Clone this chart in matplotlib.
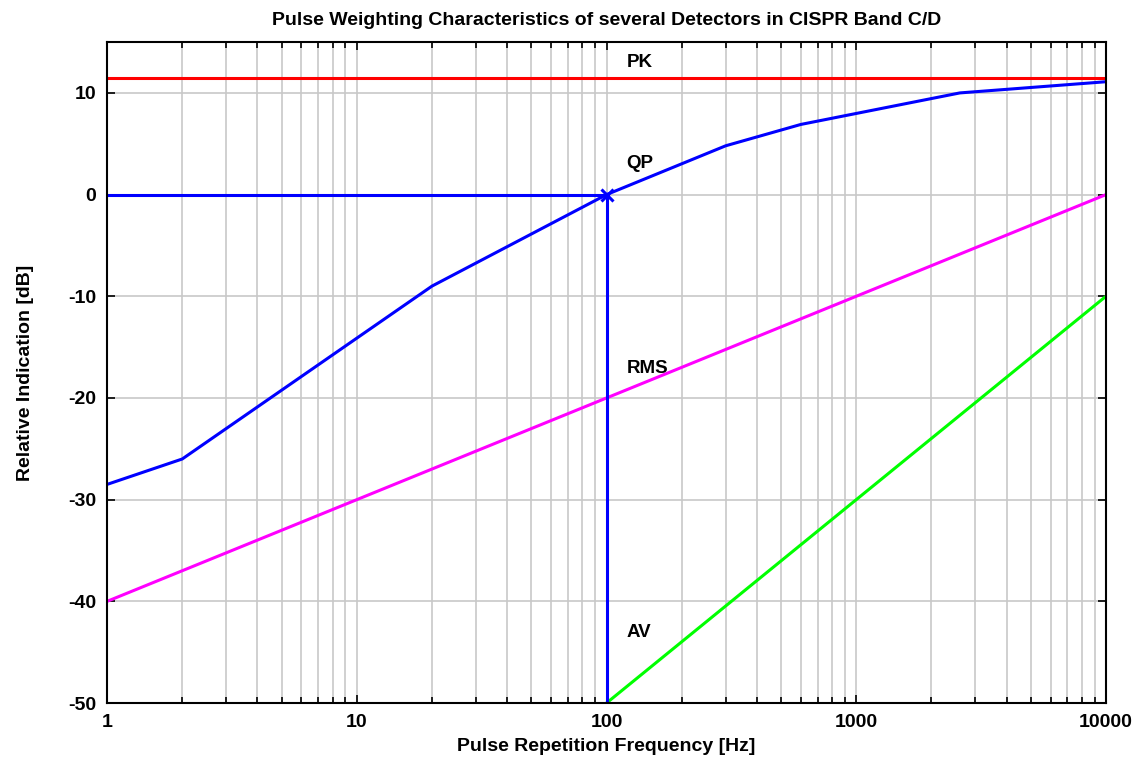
import matplotlib
matplotlib.use('Agg')
import matplotlib.pyplot as plt
from matplotlib.ticker import FixedLocator, LogLocator, NullFormatter

plt.rcParams['font.family'] = ['Liberation Sans', 'DejaVu Sans']
plt.rcParams['font.weight'] = 'bold'
plt.rcParams['axes.unicode_minus'] = False

# ── Data ─────────────────────────────────────────────
pk_f = [1, 10000]
pk_db = [11.5, 11.5]

qp_f = [1, 2, 20, 100, 300, 600, 2600, 10000]
qp_db = [-28.5, -26.0, -9.0, 0.0, 4.8, 6.9, 10.0, 11.1]

rms_f = [1, 10000]
rms_db = [-40, 0]

av_f = [100, 10000]
av_db = [-50, -10]

ref_f = [1, 100, 100]
ref_db = [0, 0, -50]

labels = ['PK', 'QP', 'RMS', 'AV']
label_y = [13.0, 3.1, -17.1, -43.1]

xticks = [1, 10, 100, 1000, 10000]
yticks = [-50, -40, -30, -20, -10, 0, 10]

fig = plt.figure(figsize=(11.39, 7.65), dpi=100)
ax = fig.add_axes([0.094, 0.081, 0.877, 0.864])

ax.plot(pk_f, pk_db, color='#ff0000', lw=2.2)
ax.plot(qp_f, qp_db, color='#0000ff', lw=2.2)
ax.plot(rms_f, rms_db, color='#ff00ff', lw=2.2)
ax.plot(av_f, av_db, color='#00ff00', lw=2.2)
ax.plot(ref_f, ref_db, color='#0000ff', lw=2.2)
ax.plot([100], [0], marker='x', color='#0000ff', ms=9, mew=2.2)

for txt, yv in zip(labels, label_y):
    ax.text(120, yv, txt, fontsize=13.5, fontweight='bold', va='center', ha='left')

ax.set_xscale('log')
ax.set_xlim(1, 10000)
ax.set_ylim(-50, 15)
ax.xaxis.set_major_locator(FixedLocator(xticks))
ax.set_xticklabels([str(v) for v in xticks])
ax.xaxis.set_minor_locator(LogLocator(base=10, subs=range(2, 10)))
ax.xaxis.set_minor_formatter(NullFormatter())
ax.set_yticks(yticks)

ax.grid(True, which='major', color='#c8c8c8', lw=1.2)
ax.grid(True, which='minor', axis='x', color='#c8c8c8', lw=1.2)
ax.set_axisbelow(True)

ax.tick_params(which='both', direction='in', top=True, right=True,
               labelsize=14, width=1.2)
ax.tick_params(which='major', length=6, pad=8)
ax.tick_params(which='minor', length=4)
for lab in ax.get_xticklabels() + ax.get_yticklabels():
    lab.set_fontweight('bold')
for sp in ax.spines.values():
    sp.set_linewidth(1.5)

ax.set_xlabel('Pulse Repetition Frequency [Hz]', fontsize=14, fontweight='bold', labelpad=5)
ax.set_ylabel('Relative Indication [dB]', fontsize=14, fontweight='bold', labelpad=24)
ax.set_title('Pulse Weighting Characteristics of several Detectors in CISPR Band C/D',
             fontsize=14, fontweight='bold', pad=12)

fig.savefig('out.png', dpi=100)
